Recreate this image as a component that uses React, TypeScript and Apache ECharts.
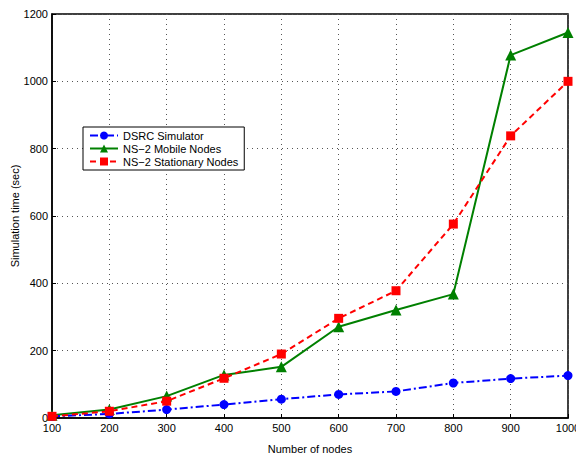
import React, { useEffect, useRef } from "react";
import * as echarts from "echarts";

const nodes = [100, 200, 300, 400, 500, 600, 700, 800, 900, 1000];
const dsrc = [5, 12, 25, 40, 56, 70, 79, 104, 117, 126];
const ns2Mobile = [8, 25, 65, 128, 152, 271, 321, 368, 1078, 1145];
const ns2Stationary = [5, 20, 50, 118, 190, 296, 378, 576, 838, 1000];

const font = "Liberation Sans, Arial, Helvetica, sans-serif";

export default function App() {
  const ref = useRef<HTMLDivElement>(null);
  useEffect(() => {
    const chart = echarts.init(ref.current!, null, { renderer: "svg" });
    const pair = (arr: number[]) => nodes.map((n, i) => [n, arr[i]]);
    chart.setOption({
      animation: false,
      backgroundColor: "#fff",
      textStyle: { fontFamily: font },
      grid: {
        left: 52, right: 8, top: 14, bottom: 38,
        outerBoundsMode: "none", containLabel: false,
        show: true, borderColor: "#000", borderWidth: 1.5,
      },
      legend: {
        left: 83, top: 127, orient: "vertical",
        backgroundColor: "#fff", borderColor: "#000", borderWidth: 1,
        padding: [3, 6, 3, 6], itemGap: 2, itemWidth: 28, itemHeight: 10,
        textStyle: { fontSize: 11, color: "#000", fontFamily: font },
        data: ["DSRC Simulator", "NS\u22122 Mobile Nodes", "NS\u22122 Stationary Nodes"],
      },
      xAxis: {
        type: "value", min: 100, max: 1000, interval: 100,
        name: "Number of nodes", nameLocation: "middle", nameGap: 25,
        nameMoveOverlap: false,
        nameTextStyle: { fontSize: 11, color: "#000", fontFamily: font },
        axisLine: { show: true, lineStyle: { color: "#000", width: 1.5 } },
        axisTick: { show: true, inside: true, length: 4, lineStyle: { color: "#000" } },
        axisLabel: { fontSize: 11, color: "#000", margin: 4, fontFamily: font, formatter: (v: number) => String(v) },
        splitLine: { show: true, lineStyle: { color: "#555", type: [1, 4], width: 1 } },
      },
      yAxis: {
        type: "value", min: 0, max: 1200, interval: 200,
        name: "Simulation time (sec)", nameLocation: "middle", nameGap: 32,
        nameMoveOverlap: false,
        nameTextStyle: { fontSize: 11, color: "#000", fontFamily: font },
        axisLine: { show: true, lineStyle: { color: "#000", width: 1.5 } },
        axisTick: { show: true, inside: true, length: 4, lineStyle: { color: "#000" } },
        axisLabel: { fontSize: 11, color: "#000", margin: 4, fontFamily: font, formatter: (v: number) => String(v) },
        splitLine: { show: true, lineStyle: { color: "#555", type: [1, 4], width: 1 } },
      },
      series: [
        {
          name: "DSRC Simulator", type: "line", data: pair(dsrc),
          symbol: "circle", symbolSize: 9, showAllSymbol: true,
          itemStyle: { color: "#0000ff" },
          lineStyle: { color: "#0000ff", width: 2, type: [8, 3, 2, 3] },
          z: 3,
        },
        {
          name: "NS\u22122 Mobile Nodes", type: "line", data: pair(ns2Mobile),
          symbol: "triangle", symbolSize: 11, showAllSymbol: true,
          itemStyle: { color: "#008000" },
          lineStyle: { color: "#008000", width: 2, type: "solid" },
          z: 2,
        },
        {
          name: "NS\u22122 Stationary Nodes", type: "line", data: pair(ns2Stationary),
          symbol: "rect", symbolSize: 9, showAllSymbol: true,
          itemStyle: { color: "#ff0000" },
          lineStyle: { color: "#ff0000", width: 2, type: [6, 4] },
          z: 4,
        },
      ],
    });
    return () => chart.dispose();
  }, []);
  return <div ref={ref} style={{ width: 576, height: 456, position: "absolute", left: 0, top: 0 }} />;
}
